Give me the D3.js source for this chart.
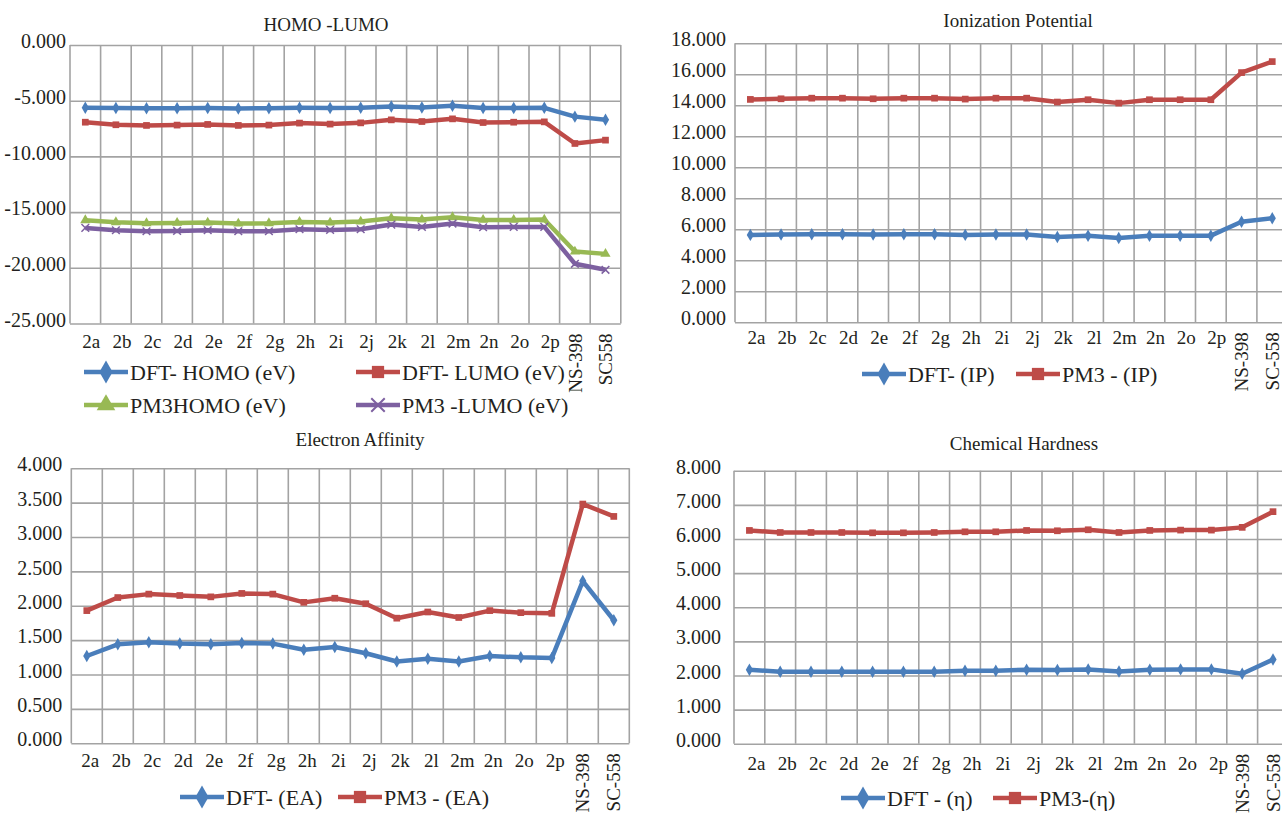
<!DOCTYPE html>
<html>
<head>
<meta charset="utf-8">
<script src="https://cdn.jsdelivr.net/npm/d3@7"></script>
<style>
body{margin:0;background:#fff;overflow:hidden;}
svg{display:block;}
svg text{font-family:'Liberation Serif','Times New Roman',serif;}
</style>
</head>
<body>
<svg id="chart" width="1282" height="814"></svg>
<script>
// compounds on the x axis, reference drugs are written differently per panel
const compounds = ["2a","2b","2c","2d","2e","2f","2g","2h","2i","2j","2k","2l","2m","2n","2o","2p"];
const refsHomoLumo = ["NS-398","SC558"];
const refsIP = ["NS-398","SC-558"];
const refsEA = ["NS-398","SC-558"];
const refsEta = ["NS-398","SC-558"];

// HOMO - LUMO (eV)
const dftHomo = [-5.64,-5.66,-5.68,-5.67,-5.66,-5.69,-5.68,-5.64,-5.66,-5.64,-5.52,-5.60,-5.45,-5.66,-5.66,-5.64,-6.43,-6.71];
const dftLumo = [-6.93,-7.16,-7.22,-7.19,-7.13,-7.22,-7.19,-7.01,-7.10,-6.99,-6.72,-6.87,-6.63,-6.96,-6.93,-6.90,-8.84,-8.54];
const pm3Homo = [-15.73,-15.91,-16.00,-15.97,-15.94,-16.03,-16.00,-15.88,-15.94,-15.85,-15.55,-15.67,-15.46,-15.70,-15.70,-15.67,-18.54,-18.75];
const pm3Lumo = [-16.42,-16.63,-16.72,-16.69,-16.63,-16.72,-16.72,-16.54,-16.60,-16.54,-16.12,-16.33,-16.03,-16.36,-16.33,-16.33,-19.64,-20.18];
// ionization potential
const dftIP = [5.64,5.66,5.68,5.68,5.66,5.68,5.68,5.64,5.66,5.66,5.51,5.59,5.44,5.59,5.59,5.59,6.49,6.71];
const pm3IP = [14.38,14.42,14.46,14.46,14.42,14.46,14.46,14.40,14.46,14.46,14.21,14.36,14.14,14.36,14.36,14.36,16.11,16.82];
// electron affinity
const dftEA = [1.27,1.44,1.47,1.45,1.44,1.46,1.45,1.36,1.40,1.31,1.19,1.23,1.19,1.27,1.25,1.24,2.36,1.79];
const pm3EA = [1.93,2.12,2.17,2.15,2.13,2.18,2.17,2.05,2.11,2.03,1.82,1.91,1.83,1.93,1.90,1.89,3.48,3.30];
// chemical hardness
const dftEta = [2.17,2.11,2.11,2.11,2.11,2.11,2.11,2.14,2.14,2.17,2.16,2.18,2.12,2.17,2.18,2.18,2.05,2.47];
const pm3Eta = [6.25,6.19,6.19,6.19,6.18,6.18,6.19,6.21,6.21,6.25,6.24,6.27,6.19,6.25,6.26,6.26,6.34,6.80];

// y tick values
const ticksHomoLumo = [0,-5,-10,-15,-20,-25];
const ticksIP = [0,2,4,6,8,10,12,14,16,18];
const ticksEA = [0,0.5,1,1.5,2,2.5,3,3.5,4];
const ticksEta = [0,1,2,3,4,5,6,7,8];

const svg = d3.select("#chart");
const serif = "'Liberation Serif','Times New Roman',serif";
const gridColor = "#a3a3a3";
const textColor = "#231f20";
const blue = "#4a7ebb", red = "#be4b48", green = "#98b954", purple = "#7d60a0";
const fmt = d3.formatLocale({decimal:".",thousands:",",grouping:[3],currency:["",""],minus:"-"}).format(".3f");

function drawPanel(p){
  const g = svg.append("g");
  const cats = compounds.concat(p.refs);
  const x = d3.scaleBand().domain(cats).range([p.left, p.left + p.colW*cats.length]);
  const y = d3.scaleLinear().domain([d3.min(p.ticks), d3.max(p.ticks)]).range([p.bottom, p.top]);
  const w = x.range()[1] - p.left;

  // horizontal grid + y labels
  g.append("g")
    .attr("transform", `translate(${p.left},0)`)
    .call(d3.axisLeft(y).tickValues(p.ticks).tickSize(-w).tickPadding(p.labelGap).tickFormat(fmt))
    .call(a => a.select(".domain").remove())
    .call(a => a.selectAll("line").attr("stroke", gridColor).attr("stroke-width", 1.6))
    .call(a => a.selectAll("text").attr("dy","0.13em").attr("fill", textColor))
    .attr("font-size", 20).attr("font-family", serif);

  // vertical grid at band edges
  g.append("g").selectAll("line")
    .data(d3.range(cats.length + 1))
    .join("line")
    .attr("x1", i => p.left + i*x.step()).attr("x2", i => p.left + i*x.step())
    .attr("y1", p.top).attr("y2", p.bottom)
    .attr("stroke", gridColor).attr("stroke-width", 1.6);

  // category labels
  const cx = d => x(d) + x.bandwidth()/2;
  g.append("g").selectAll("text")
    .data(compounds)
    .join("text")
    .attr("x", d => cx(d) + p.labelShift).attr("y", p.bottom + p.labelDrop)
    .attr("text-anchor","middle").attr("font-size",19).attr("font-family",serif).attr("fill",textColor)
    .text(d => d);
  g.append("g").selectAll("text")
    .data(p.refs)
    .join("text")
    .attr("transform", d => `translate(${cx(d)},${p.bottom + 10}) rotate(-90)`)
    .attr("dy","0.35em")
    .attr("text-anchor","end").attr("font-size",19).attr("font-family",serif).attr("fill",textColor)
    .text(d => d);

  // title
  g.append("text")
    .attr("x", p.titleX).attr("y", p.titleY)
    .attr("text-anchor","middle").attr("font-size",19).attr("font-family",serif).attr("fill",textColor)
    .text(p.title);

  // series
  const line = d3.line().x((d,i) => cx(cats[i])).y(d => y(d));
  p.series.forEach(s => {
    g.append("path").datum(s.values)
      .attr("d", line).attr("fill","none")
      .attr("stroke", s.color).attr("stroke-width", 4.5).attr("stroke-linejoin","round");
    g.append("g").selectAll("path")
      .data(s.values)
      .join("path")
      .attr("transform", (d,i) => `translate(${cx(cats[i])},${y(d)})`)
      .attr("d", d3.symbol(s.symbol, s.stroke ? 40 : 45))
      .attr("fill", s.stroke ? "none" : s.color)
      .attr("stroke", s.color).attr("stroke-width", s.stroke ? 1.5 : 0);

    // legend entry
    const lg = g.append("g").attr("transform", `translate(${s.lx},${s.ly})`);
    lg.append("line").attr("x1",0).attr("x2",44).attr("y1",0).attr("y2",0)
      .attr("stroke", s.color).attr("stroke-width", 4.5);
    lg.append("path").attr("transform","translate(22,0)")
      .attr("d", d3.symbol(s.symbol, s.stroke ? 120 : 150))
      .attr("fill", s.stroke ? "none" : s.color)
      .attr("stroke", s.color).attr("stroke-width", s.stroke ? 2 : 0);
    lg.append("text").attr("x",46).attr("dy","0.35em")
      .attr("font-size",22).attr("font-family",serif).attr("fill",textColor).text(s.name);
  });
}

drawPanel({
  title: "HOMO -LUMO", titleX: 326, titleY: 31,
  refs: refsHomoLumo, ticks: ticksHomoLumo,
  left: 70, colW: 30.6, top: 45, bottom: 323.5, labelGap: 4, labelDrop: 24, labelShift: 6,
  series: [
    {name: "DFT- HOMO (eV)", values: dftHomo, color: blue, symbol: d3.symbolDiamond, lx: 84, ly: 372},
    {name: "DFT- LUMO (eV)", values: dftLumo, color: red, symbol: d3.symbolSquare, lx: 356, ly: 372},
    {name: "PM3HOMO (eV)", values: pm3Homo, color: green, symbol: d3.symbolTriangle, lx: 84, ly: 405},
    {name: "PM3 -LUMO (eV)", values: pm3Lumo, color: purple, symbol: d3.symbolTimes || d3.symbolX, stroke: true, lx: 356, ly: 405}
  ]
});

drawPanel({
  title: "Ionization Potential", titleX: 1018, titleY: 27,
  refs: refsIP, ticks: ticksIP,
  left: 735, colW: 30.7, top: 43.3, bottom: 322.3, labelGap: 9, labelDrop: 22, labelShift: 6,
  series: [
    {name: "DFT- (IP)", values: dftIP, color: blue, symbol: d3.symbolDiamond, lx: 862, ly: 374},
    {name: "PM3 - (IP)", values: pm3IP, color: red, symbol: d3.symbolSquare, lx: 1016, ly: 374}
  ]
});

drawPanel({
  title: "Electron Affinity", titleX: 360, titleY: 446,
  refs: refsEA, ticks: ticksEA,
  left: 71.3, colW: 31, top: 468.3, bottom: 743.3, labelGap: 9, labelDrop: 24, labelShift: 3.5,
  series: [
    {name: "DFT- (EA)", values: dftEA, color: blue, symbol: d3.symbolDiamond, lx: 180, ly: 797},
    {name: "PM3 - (EA)", values: pm3EA, color: red, symbol: d3.symbolSquare, lx: 338, ly: 797}
  ]
});

drawPanel({
  title: "Chemical Hardness", titleX: 1024, titleY: 450,
  refs: refsEta, ticks: ticksEta,
  left: 734, colW: 30.8, top: 470.7, bottom: 743.8, labelGap: 13, labelDrop: 26, labelShift: 7,
  series: [
    {name: "DFT - (η)", values: dftEta, color: blue, symbol: d3.symbolDiamond, lx: 841, ly: 798},
    {name: "PM3-(η)", values: pm3Eta, color: red, symbol: d3.symbolSquare, lx: 993, ly: 798}
  ]
});
</script>
</body>
</html>
